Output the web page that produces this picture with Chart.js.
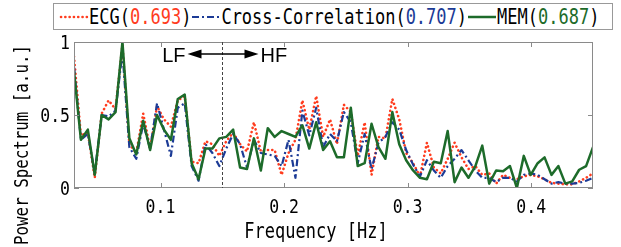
<!DOCTYPE html>
<html>
<head>
<meta charset="utf-8">
<script src="https://cdn.jsdelivr.net/npm/chart.js@4.4.1/dist/chart.umd.min.js"></script>
<style>
  body { margin: 0; background: #fff; }
  #wrap { position: relative; width: 621px; height: 247px; }
  #legend {
    position: absolute; left: 53px; top: 3px; width: 560px; height: 27px;
    border: 1px solid #999; background: #fff; box-sizing: border-box;
    display: flex; align-items: center; padding-left: 5px;
    font-family: "DejaVu Sans Mono", monospace; font-size: 17px; color: #000;
    white-space: nowrap;
  }
  #legend .t { display: inline-block; transform: scaleY(1.22); }
  #legend svg { display: block; }
</style>
</head>
<body>
<div id="wrap">
  <canvas id="chart" width="621" height="247"></canvas>
  <div id="legend">
    <svg width="30" height="12"><line x1="2" y1="6" x2="28" y2="6" stroke="#ff3c1e" stroke-width="2.6" stroke-linecap="round" stroke-dasharray="0.1 4.2"/></svg>
    <span class="t">ECG(<span style="color:#ff3c1e">0.693</span>)</span>
    <svg width="30" height="12"><line x1="1" y1="6" x2="29" y2="6" stroke="#1c3b96" stroke-width="2.2" stroke-dasharray="7 3 2 3"/></svg>
    <span class="t">Cross-Correlation(<span style="color:#1c3b96">0.707</span>)</span>
    <svg width="30" height="12"><line x1="1" y1="6" x2="29" y2="6" stroke="#1d6b2a" stroke-width="2.5"/></svg>
    <span class="t">MEM(<span style="color:#1d6b2a">0.687</span>)</span>
  </div>
</div>
<script>
const freq = [
  0.0300, 0.0356, 0.0412, 0.0468, 0.0524, 0.0580, 0.0636, 0.0692, 0.0748, 0.0804,
  0.0860, 0.0916, 0.0972, 0.1028, 0.1084, 0.1140, 0.1196, 0.1252, 0.1308, 0.1364,
  0.1420, 0.1476, 0.1532, 0.1588, 0.1644, 0.1700, 0.1756, 0.1812, 0.1868, 0.1924,
  0.1980, 0.2036, 0.2092, 0.2148, 0.2204, 0.2260, 0.2316, 0.2372, 0.2428, 0.2484,
  0.2540, 0.2596, 0.2652, 0.2708, 0.2764, 0.2820, 0.2876, 0.2932, 0.2988, 0.3044,
  0.3100, 0.3156, 0.3212, 0.3268, 0.3324, 0.3380, 0.3436, 0.3492, 0.3548, 0.3604,
  0.3660, 0.3716, 0.3772, 0.3828, 0.3884, 0.3940, 0.3996, 0.4052, 0.4108, 0.4164,
  0.4220, 0.4276, 0.4332, 0.4388, 0.4444, 0.4500
];

const ecg = [
  0.90, 0.36, 0.38, 0.07, 0.51, 0.60, 0.54, 0.98, 0.30, 0.24,
  0.51, 0.27, 0.56, 0.47, 0.42, 0.60, 0.63, 0.18, 0.17, 0.32,
  0.30, 0.22, 0.32, 0.38, 0.30, 0.25, 0.45, 0.25, 0.26, 0.26,
  0.09, 0.24, 0.33, 0.60, 0.40, 0.63, 0.35, 0.47, 0.30, 0.57,
  0.52, 0.22, 0.45, 0.09, 0.35, 0.34, 0.61, 0.47, 0.24, 0.17,
  0.08, 0.31, 0.14, 0.10, 0.20, 0.31, 0.21, 0.13, 0.15, 0.09,
  0.10, 0.03, 0.09, 0.07, 0.06, 0.08, 0.09, 0.08, 0.06, 0.035,
  0.03, 0.025, 0.025, 0.045, 0.07, 0.10
];

const crossCorr = [
  0.83, 0.33, 0.37, 0.10, 0.50, 0.49, 0.53, 0.93, 0.28, 0.20,
  0.44, 0.27, 0.58, 0.40, 0.22, 0.55, 0.58, 0.15, 0.05, 0.30,
  0.24, 0.15, 0.27, 0.37, 0.30, 0.14, 0.33, 0.24, 0.23, 0.22,
  0.15, 0.33, 0.07, 0.53, 0.36, 0.55, 0.28, 0.37, 0.32, 0.52,
  0.45, 0.17, 0.37, 0.13, 0.31, 0.35, 0.45, 0.40, 0.26, 0.16,
  0.08, 0.19, 0.12, 0.07, 0.15, 0.20, 0.26, 0.19, 0.12, 0.07,
  0.07, 0.04, 0.07, 0.07, 0.045, 0.09, 0.10, 0.09, 0.06, 0.03,
  0.04, 0.03, 0.03, 0.035, 0.05, 0.07
];

const mem = [
  0.80, 0.33, 0.40, 0.09, 0.50, 0.47, 0.52, 1.00, 0.34, 0.23,
  0.46, 0.26, 0.50, 0.40, 0.33, 0.61, 0.64, 0.17, 0.06, 0.27,
  0.27, 0.34, 0.35, 0.40, 0.14, 0.13, 0.34, 0.12, 0.41, 0.35,
  0.39, 0.37, 0.35, 0.43, 0.27, 0.45, 0.26, 0.32, 0.21, 0.21,
  0.55, 0.15, 0.17, 0.44, 0.28, 0.20, 0.52, 0.30, 0.19, 0.12,
  0.07, 0.06, 0.18, 0.17, 0.39, 0.04, 0.14, 0.07, 0.15, 0.29,
  0.03, 0.12, 0.115, 0.15, 0.00, 0.22, 0.09, 0.17, 0.21, 0.09,
  0.15, 0.03, 0.045, 0.125, 0.15, 0.28
];

const xTicks = [0.1, 0.2, 0.3, 0.4];
const xTickLabels = ['0.1', '0.2', '0.3', '0.4'];
const yTicks = [0, 0.5, 1];
const yTickLabels = ['0', '0.5', '1'];
const lfhfBoundary = 0.15;

const pts = arr => arr.map((v, i) => ({x: freq[i], y: v}));

// frame, inward ticks, tick labels, LF/HF marker and axis titles
const deco = {
  id: 'deco',
  afterDraw(chart) {
    const {ctx, chartArea: a, scales: {x, y}} = chart;
    ctx.save();

    ctx.strokeStyle = '#8a8a8a';
    ctx.lineWidth = 1;
    ctx.strokeRect(a.left + 0.5, a.top + 0.5, a.right - a.left - 1, a.bottom - a.top - 1);

    ctx.beginPath();
    xTicks.forEach(v => {
      const px = Math.round(x.getPixelForValue(v)) + 0.5;
      ctx.moveTo(px, a.bottom); ctx.lineTo(px, a.bottom - 5);
      ctx.moveTo(px, a.top); ctx.lineTo(px, a.top + 5);
    });
    yTicks.forEach(v => {
      const py = Math.round(y.getPixelForValue(v)) + 0.5;
      ctx.moveTo(a.left, py); ctx.lineTo(a.left + 5, py);
      ctx.moveTo(a.right, py); ctx.lineTo(a.right - 5, py);
    });
    ctx.stroke();

    // tick labels, a little taller than the plain mono face
    ctx.fillStyle = '#000';
    ctx.font = '16.5px "DejaVu Sans Mono", monospace';
    ctx.textBaseline = 'middle';
    ctx.textAlign = 'center';
    xTicks.forEach((v, i) => {
      ctx.save();
      ctx.translate(x.getPixelForValue(v), 208.5);
      ctx.scale(1, 1.15);
      ctx.fillText(xTickLabels[i], 0, 0);
      ctx.restore();
    });
    ctx.textAlign = 'right';
    yTicks.forEach((v, i) => {
      ctx.save();
      ctx.translate(a.left - 4, y.getPixelForValue(v) + 2);
      ctx.scale(1, 1.15);
      ctx.fillText(yTickLabels[i], 0, 0);
      ctx.restore();
    });

    // LF / HF boundary
    const bx = Math.round(x.getPixelForValue(lfhfBoundary)) + 0.5;
    ctx.strokeStyle = '#444';
    ctx.setLineDash([3, 2]);
    ctx.beginPath();
    ctx.moveTo(bx, a.top); ctx.lineTo(bx, a.bottom);
    ctx.stroke();
    ctx.setLineDash([]);

    const ay = 54, l = bx - 35, r = bx + 36;
    ctx.strokeStyle = '#000';
    ctx.lineWidth = 1.5;
    ctx.beginPath();
    ctx.moveTo(l + 10, ay); ctx.lineTo(r - 10, ay);
    ctx.stroke();
    ctx.beginPath();
    ctx.moveTo(l, ay); ctx.lineTo(l + 14, ay - 4.5); ctx.lineTo(l + 14, ay + 4.5); ctx.closePath();
    ctx.moveTo(r, ay); ctx.lineTo(r - 14, ay - 4.5); ctx.lineTo(r - 14, ay + 4.5); ctx.closePath();
    ctx.fill();

    ctx.font = '20px "Liberation Sans", Arial, sans-serif';
    ctx.textBaseline = 'alphabetic';
    ctx.textAlign = 'right';
    ctx.fillText('LF', l - 2, 62);
    ctx.textAlign = 'left';
    ctx.fillText('HF', r + 2, 62);

    // axis titles
    ctx.font = '17px "DejaVu Sans Mono", monospace';
    ctx.textAlign = 'center';
    ctx.textBaseline = 'middle';
    ctx.save();
    ctx.translate(316, 233);
    ctx.scale(1, 1.22);
    ctx.fillText('Frequency [Hz]', 0, 0);
    ctx.restore();

    ctx.font = '15.5px "DejaVu Sans Mono", monospace';
    ctx.save();
    ctx.translate(23, 145);
    ctx.rotate(-Math.PI / 2);
    ctx.scale(1.02, 1.22);
    ctx.fillText('Power Spectrum [a.u.]', 0, 0);
    ctx.restore();

    ctx.restore();
  }
};

new Chart(document.getElementById('chart'), {
  type: 'line',
  data: {
    datasets: [
      {label: 'ECG', data: pts(ecg), borderColor: '#ff3c1e', borderWidth: 2.6,
       borderDash: [0.1, 4.2], borderCapStyle: 'round', order: 3},
      {label: 'Cross-Correlation', data: pts(crossCorr), borderColor: '#1c3b96', borderWidth: 2.2,
       borderDash: [7, 3, 2, 3], order: 2},
      {label: 'MEM', data: pts(mem), borderColor: '#1d6b2a', borderWidth: 2.5, order: 1}
    ]
  },
  options: {
    responsive: false,
    animation: false,
    devicePixelRatio: 1,
    layout: {padding: {top: 42, right: 28, left: 0, bottom: 0}},
    elements: {point: {radius: 0}, line: {tension: 0, borderJoinStyle: 'round', fill: false}},
    plugins: {legend: {display: false}, tooltip: {enabled: false}},
    scales: {
      x: {
        type: 'linear', min: 0.03, max: 0.45,
        afterFit: s => { s.height = 59; },
        afterBuildTicks: s => { s.ticks = xTicks.map(v => ({value: v})); },
        grid: {display: false, drawTicks: false},
        border: {display: false},
        ticks: {display: false}
      },
      y: {
        min: 0, max: 1,
        afterFit: s => { s.width = 74; },
        afterBuildTicks: s => { s.ticks = yTicks.map(v => ({value: v})); },
        grid: {display: false, drawTicks: false},
        border: {display: false},
        ticks: {display: false}
      }
    }
  },
  plugins: [deco]
});
</script>
</body>
</html>
